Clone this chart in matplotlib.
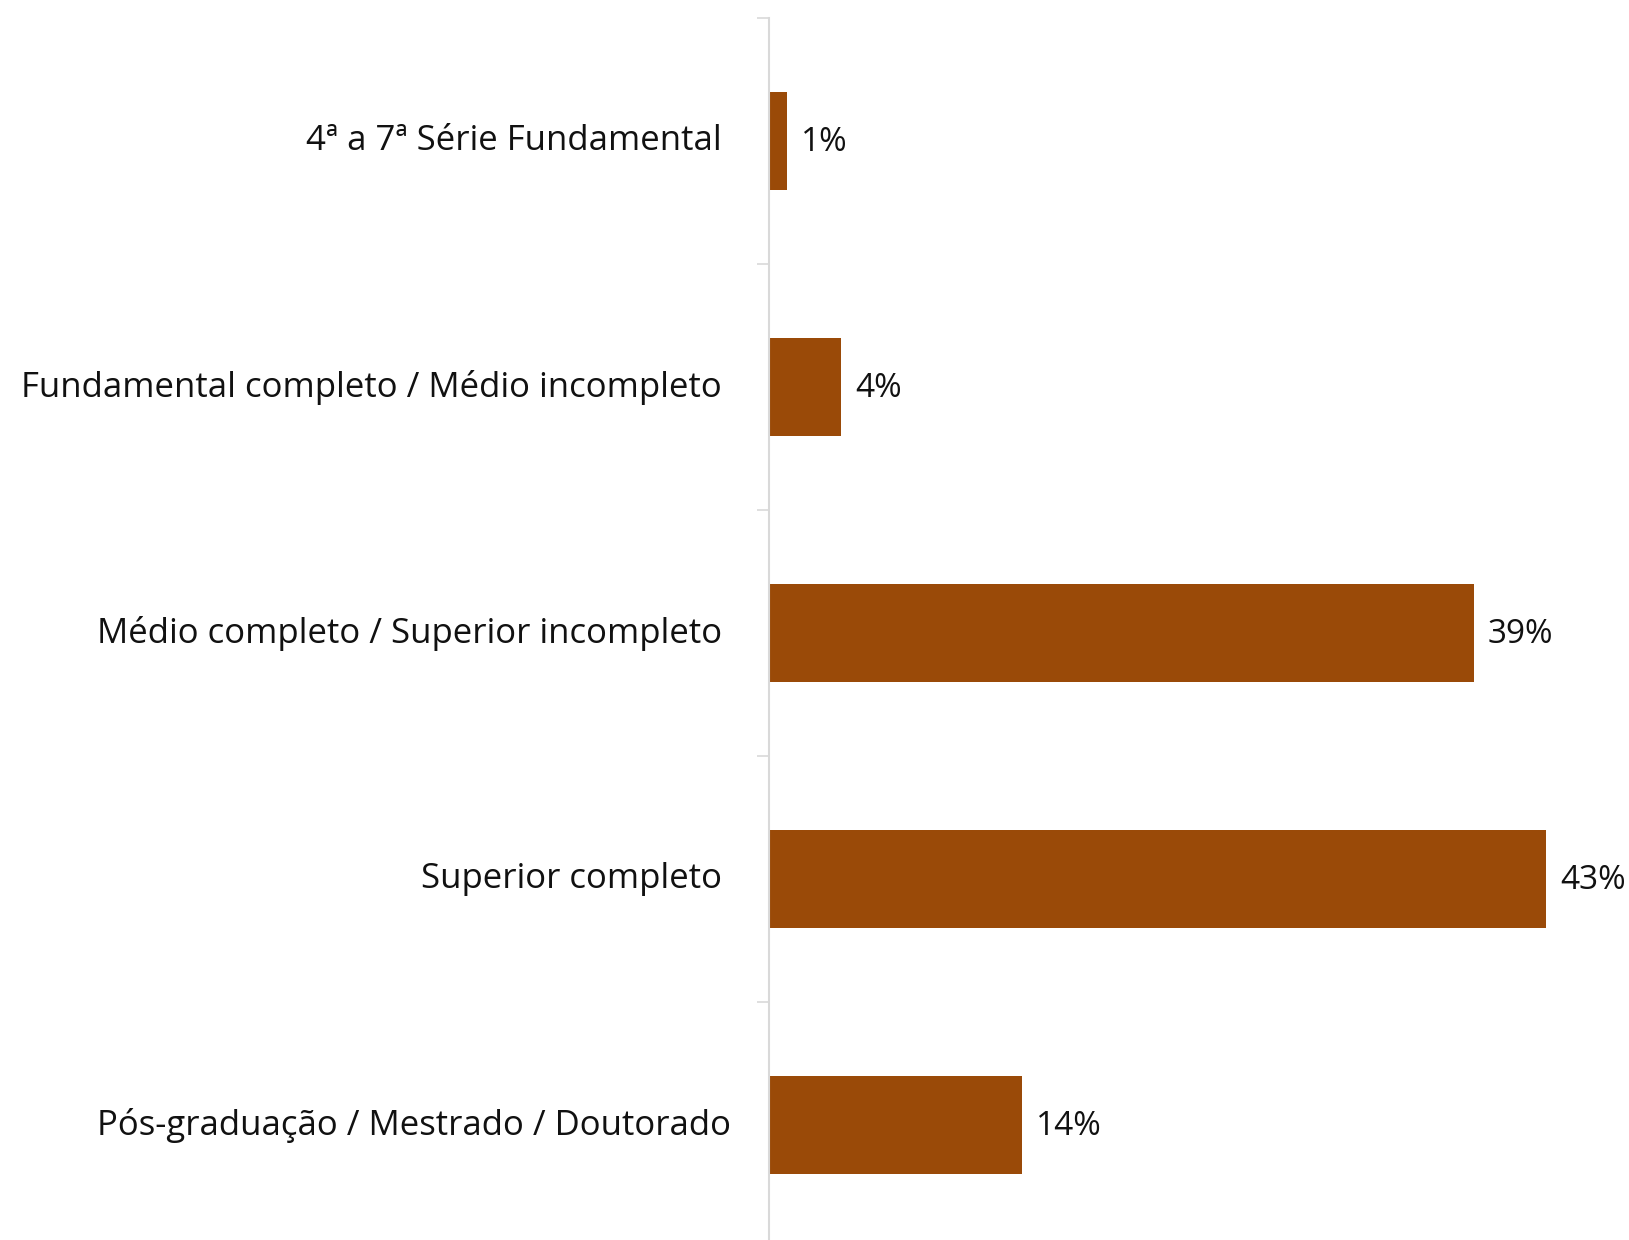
import matplotlib
matplotlib.use("Agg")
import matplotlib.pyplot as plt
import matplotlib.transforms as mtransforms
from matplotlib.ticker import FixedLocator

plt.rcParams['font.family'] = ['Open Sans', 'DejaVu Sans']

categories = [
    "4ª a 7ª Série Fundamental",
    "Fundamental completo / Médio incompleto",
    "Médio completo / Superior incompleto",
    "Superior completo",
    "Pós-graduação / Mestrado / Doutorado",
]
values = [1, 4, 39, 43, 14]
value_labels = ["1%", "4%", "39%", "43%", "14%"]

bar_color = "#9a4a08"
axis_gray = "#d9d9d9"
text_color = "#111111"

fig = plt.figure(figsize=(16.29, 12.40), dpi=100)
ax = fig.add_axes([0.472, -0.0065, 0.528, 0.992])

y = list(range(len(categories)))
ax.barh(y, values, height=0.4, color=bar_color)

ax.set_ylim(len(categories) - 0.5, -0.5)
ax.set_xlim(0, 47.6)

for spine in ("top", "right", "bottom"):
    ax.spines[spine].set_visible(False)
ax.spines["left"].set_color(axis_gray)
ax.spines["left"].set_linewidth(1.5)

ax.set_xticks([])
ax.set_yticks([])
ax.yaxis.set_minor_locator(FixedLocator([i - 0.5 for i in range(len(categories) + 1)]))
ax.tick_params(axis="y", which="minor", length=8.5, width=1.2, color=axis_gray)

# category labels, right-aligned left of the axis line
label_trans = ax.get_yaxis_transform()
offsets_px = [-47, -47, -47, -47, -38]
for yi, cat, off in zip(y, categories, offsets_px):
    t = mtransforms.offset_copy(label_trans, fig=fig, x=off, y=0, units="dots")
    ax.text(0, yi, cat, transform=t, ha="right", va="center",
            fontsize=25, color=text_color)

for yi, v, lab in zip(y, values, value_labels):
    ax.annotate(lab, xy=(v, yi), xytext=(10, -1), textcoords="offset points",
                va="center", ha="left", fontsize=24, color=text_color)

fig.savefig("out.png", dpi=100, facecolor="white")
